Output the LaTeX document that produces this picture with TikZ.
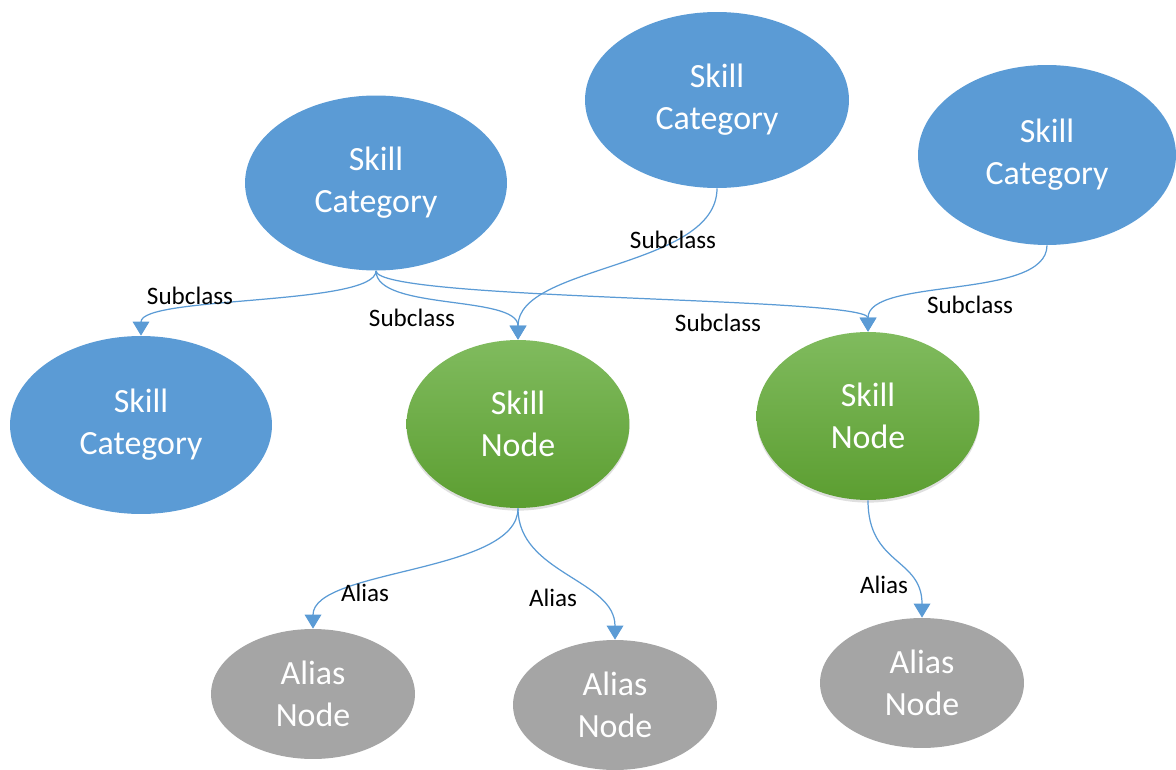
\documentclass[tikz,border=0pt]{standalone}
\usepackage{fontspec}
\setmainfont{Carlito}
\usetikzlibrary{shapes.geometric,arrows.meta,shadows}

\definecolor{catblue}{HTML}{5B9BD5}
\definecolor{nodegreenT}{HTML}{80BB5E}
\definecolor{nodegreenB}{HTML}{5C9E31}
\definecolor{aliasgray}{HTML}{A5A5A5}
\definecolor{linkblue}{HTML}{5B9BD5}

\tikzset{
  bubble/.style={ellipse, inner sep=0pt, align=center, text=white,
    font=\fontsize{19.3}{23.8}\selectfont},
  category/.style={bubble, fill=catblue, minimum width=5.24cm, minimum height=3.5cm},
  skillnode/.style={bubble, top color=nodegreenT, bottom color=nodegreenB,
    minimum width=4.46cm, minimum height=3.36cm,
    drop shadow={shadow xshift=0pt, shadow yshift=-1.5pt, opacity=0.25}},
  aliasnode/.style={bubble, fill=aliasgray, minimum width=4.08cm, minimum height=2.6cm},
  link/.style={draw=linkblue, line width=0.7pt,
    -{Triangle[width=9.5pt,length=8pt]}},
  tag/.style={font=\fontsize{14.3}{17}\selectfont, text=black, inner sep=1pt}
}

\begin{document}
\begin{tikzpicture}[x=0.02cm, y=-0.02cm]
  \useasboundingbox (0,0) rectangle (1176,770);

  % category bubbles
  \node[category] (catA) at (376,183) {Skill\\Category};
  \node[category, minimum width=5.28cm, minimum height=3.52cm] (catB) at (717,100) {Skill\\Category};
  \node[category, minimum width=5.16cm, minimum height=3.6cm] (catC) at (1047,155) {Skill\\Category};
  \node[category, minimum height=3.56cm] (catD) at (141,425) {Skill\\Category};

  % skill nodes
  \node[skillnode] (skA) at (518,424) {Skill\\Node};
  \node[skillnode] (skB) at (868,416) {Skill\\Node};

  % alias nodes
  \node[aliasnode] (alA) at (313,694) {Alias\\Node};
  \node[aliasnode] (alB) at (615,705) {Alias\\Node};
  \node[aliasnode] (alC) at (922,683) {Alias\\Node};

  % subclass links
  \draw[link] (catA.south) .. controls +(0,35) and +(0,-40) .. (catD.north);
  \draw[link] (catA.south) .. controls +(0,40) and +(0,-45) .. (skA.north);
  \draw[link] (catA.south) .. controls +(0,30) and +(0,-35) .. (skB.north);
  \draw[link] (catB.south) .. controls +(0,80) and +(0,-75) .. (skA.north);
  \draw[link] (catC.south) .. controls +(0,55) and +(0,-55) .. (skB.north);

  % alias links
  \draw[link] (skA.south) .. controls +(0,65) and +(0,-60) .. (alA.north);
  \draw[link] (skA.south) .. controls +(0,65) and +(0,-60) .. (alB.north);
  \draw[link] (skB.south) .. controls +(0,65) and +(0,-60) .. (alC.north);

  % link labels
  \node[tag] (t1) at (190,296) {Subclass};
  \node[tag] (t2) at (412,318) {Subclass};
  \node[tag] (t3) at (718,323) {Subclass};
  \node[tag] (t4) at (673,240) {Subclass};
  \node[tag] (t5) at (970,305) {Subclass};
  \node[tag] (t6) at (365,593) {Alias};
  \node[tag] (t7) at (553,598) {Alias};
  \node[tag] (t8) at (884,585) {Alias};
\end{tikzpicture}
\end{document}
